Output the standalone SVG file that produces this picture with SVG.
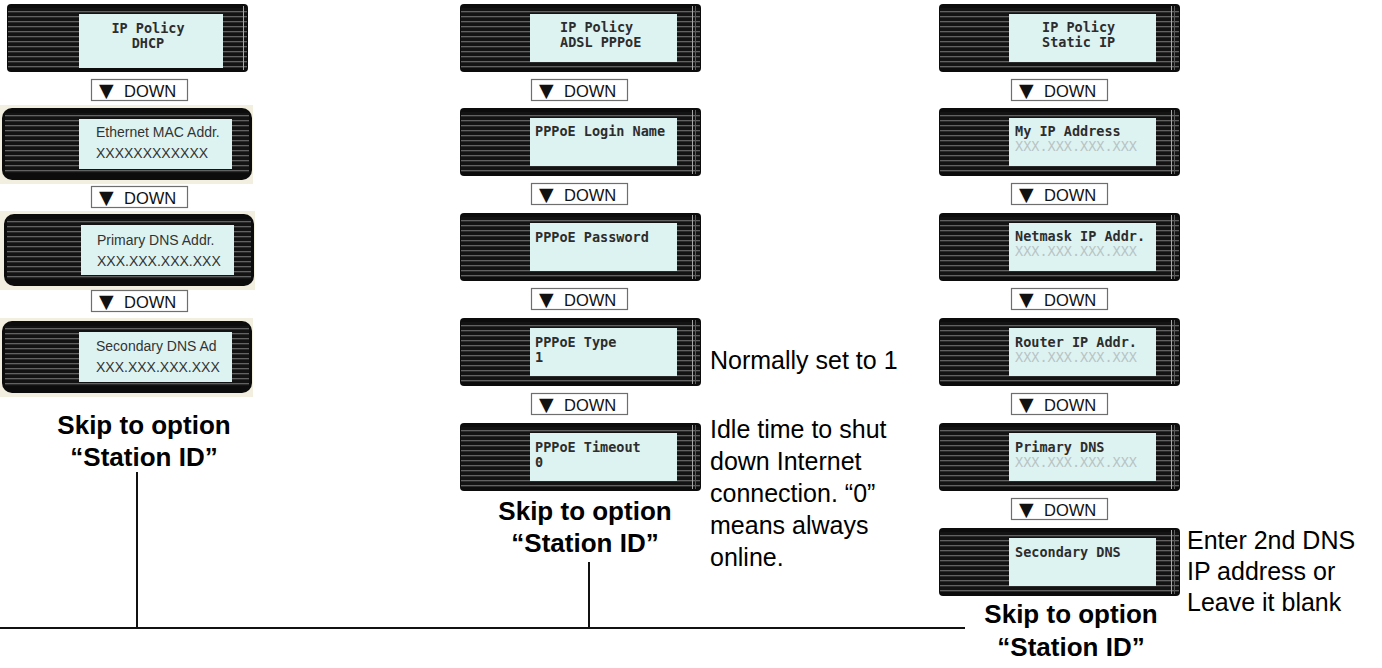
<svg xmlns="http://www.w3.org/2000/svg" xmlns:xlink="http://www.w3.org/1999/xlink" width="1382" height="668" viewBox="0 0 1382 668">
<defs>
  <pattern id="st" width="10" height="5" patternUnits="userSpaceOnUse">
    <rect width="10" height="5" fill="#131313"/>
    <rect y="2" width="10" height="1.3" fill="#626262"/>
  </pattern>
  <style>
    .body{fill:#0c0c0c}
    .str{fill:url(#st)}
    .lcd{fill:#ddf3f2}
    .vl1{stroke:#a8a8a8;stroke-width:1}
    .vl2{stroke:#5a5a5a;stroke-width:1}
    .cream{fill:#f2efe0}
    .mono{font-family:"DejaVu Sans Mono","Liberation Mono",monospace;font-size:13.5px;font-weight:bold;fill:#2d2d2d}
    .ip{font-family:"DejaVu Sans Mono","Liberation Mono",monospace;font-size:13.5px;fill:#b8c4c4}
    .ph{font-family:"Liberation Sans",Arial,sans-serif;font-size:14px;fill:#333}
    .btn rect{fill:#fff;stroke:#6e6e6e;stroke-width:1.2}
    .btn text{font-family:"Liberation Sans","DejaVu Sans",sans-serif;font-size:16.5px;fill:#111}
    .tri{font-family:"DejaVu Sans","Liberation Sans",sans-serif;font-size:19px}
    .skip{font-family:"Liberation Sans",Arial,sans-serif;font-size:26px;font-weight:bold;text-anchor:middle;fill:#000}
    .note{font-family:"Liberation Sans",Arial,sans-serif;font-size:25px;fill:#000}
    .conn{stroke:#111;stroke-width:2;fill:none}
  </style>
  <symbol id="panelA" width="241" height="68" viewBox="0 0 241 68" overflow="visible">
    <rect class="body" width="241" height="68" rx="4"/>
    <rect class="str" x="1" y="4" width="239" height="60"/>
    <rect class="lcd" x="70" y="10" width="147" height="48"/>
    <line class="vl1" x1="232.5" y1="2" x2="232.5" y2="66"/>
    <line class="vl2" x1="235.5" y1="2" x2="235.5" y2="66"/>
  </symbol>
  <symbol id="panelB" width="241" height="68" viewBox="0 0 241 68" overflow="visible">
    <rect class="body" width="241" height="68" rx="4"/>
    <rect class="str" x="1" y="4" width="239" height="60"/>
    <rect class="lcd" x="72" y="10" width="144" height="54"/>
    <line class="vl1" x1="236.5" y1="2" x2="236.5" y2="66"/>
  </symbol>
  <symbol id="panelC" width="250" height="72" viewBox="0 0 250 72" overflow="visible">
    <rect class="body" width="250" height="72" rx="10"/>
    <rect class="str" x="3" y="5" width="244" height="60"/>
    <rect class="lcd" x="77" y="11" width="153" height="50"/>
  </symbol>
  <symbol id="down" width="97" height="22" viewBox="0 0 97 22" overflow="visible">
    <g class="btn">
      <rect x="0.5" y="0.5" width="96" height="21"/>
      <text x="8" y="17.5"><tspan class="tri">▼</tspan> <tspan x="33">DOWN</tspan></text>
    </g>
  </symbol>
</defs>
<rect width="1382" height="668" fill="#fff"/>

<!-- Column 1: DHCP -->
<g id="dhcp-policy">
  <use href="#panelB" x="7" y="4" width="241" height="68"/>
  <text class="mono" x="148" y="33" text-anchor="middle">IP Policy</text>
  <text class="mono" x="148" y="48" text-anchor="middle">DHCP</text>
</g>
<g id="dhcp-down1"><use href="#down" x="91" y="79" width="97" height="22"/></g>
<g id="dhcp-mac">
  <rect class="cream" x="0" y="105" width="253" height="79"/>
  <use href="#panelC" x="2" y="108" width="250" height="72"/>
  <text class="ph" x="96" y="137">Ethernet MAC Addr.</text>
  <text class="ph" x="96" y="158">XXXXXXXXXXXX</text>
</g>
<g id="dhcp-down2"><use href="#down" x="91" y="186" width="97" height="22"/></g>
<g id="dhcp-dns1">
  <rect class="cream" x="0" y="211" width="255" height="79"/>
  <use href="#panelC" x="4" y="214" width="250" height="72"/>
  <text class="ph" x="97" y="245">Primary DNS Addr.</text>
  <text class="ph" x="97" y="266">XXX.XXX.XXX.XXX</text>
</g>
<g id="dhcp-down3"><use href="#down" x="91" y="290" width="97" height="22"/></g>
<g id="dhcp-dns2">
  <rect class="cream" x="0" y="318" width="253" height="79"/>
  <use href="#panelC" x="2" y="321" width="250" height="72"/>
  <text class="ph" x="96" y="351">Secondary DNS Ad</text>
  <text class="ph" x="96" y="372">XXX.XXX.XXX.XXX</text>
</g>
<g id="dhcp-skip">
  <text class="skip" x="144" y="434">Skip to option</text>
  <text class="skip" x="144" y="466">“Station ID”</text>
</g>

<!-- Column 2: ADSL PPPoE -->
<g id="pppoe-policy">
  <use href="#panelA" x="460" y="4" width="241" height="68"/>
  <text class="mono" x="560" y="32">IP Policy</text>
  <text class="mono" x="560" y="47">ADSL PPPoE</text>
</g>
<g id="pppoe-down1"><use href="#down" x="531" y="79" width="97" height="22"/></g>
<g id="pppoe-login">
  <use href="#panelA" x="460" y="108" width="241" height="68"/>
  <text class="mono" x="535" y="136">PPPoE Login Name</text>
</g>
<g id="pppoe-down2"><use href="#down" x="531" y="183" width="97" height="22"/></g>
<g id="pppoe-password">
  <use href="#panelA" x="460" y="213" width="241" height="68"/>
  <text class="mono" x="535" y="242">PPPoE Password</text>
</g>
<g id="pppoe-down3"><use href="#down" x="531" y="288" width="97" height="22"/></g>
<g id="pppoe-type">
  <use href="#panelA" x="460" y="318" width="241" height="68"/>
  <text class="mono" x="535" y="347">PPPoE Type</text>
  <text class="mono" x="535" y="362">1</text>
  <text class="note" x="710" y="369">Normally set to 1</text>
</g>
<g id="pppoe-down4"><use href="#down" x="531" y="393" width="97" height="22"/></g>
<g id="pppoe-timeout">
  <use href="#panelA" x="460" y="423" width="241" height="68"/>
  <text class="mono" x="535" y="452">PPPoE Timeout</text>
  <text class="mono" x="535" y="467">0</text>
  <text class="note" x="710" y="438">Idle time to shut</text>
  <text class="note" x="710" y="470">down Internet</text>
  <text class="note" x="710" y="502">connection. “0”</text>
  <text class="note" x="710" y="534">means always</text>
  <text class="note" x="710" y="566">online.</text>
</g>
<g id="pppoe-skip">
  <text class="skip" x="585" y="520">Skip to option</text>
  <text class="skip" x="585" y="552">“Station ID”</text>
</g>

<!-- Column 3: Static IP -->
<g id="static-policy">
  <use href="#panelA" x="939" y="4" width="241" height="68"/>
  <text class="mono" x="1042" y="32">IP Policy</text>
  <text class="mono" x="1042" y="47">Static IP</text>
</g>
<g id="static-down1"><use href="#down" x="1011" y="79" width="97" height="22"/></g>
<g id="static-myip">
  <use href="#panelA" x="939" y="108" width="241" height="68"/>
  <text class="mono" x="1015" y="136">My IP Address</text>
  <text class="ip" x="1015" y="151">XXX.XXX.XXX.XXX</text>
</g>
<g id="static-down2"><use href="#down" x="1011" y="183" width="97" height="22"/></g>
<g id="static-netmask">
  <use href="#panelA" x="939" y="213" width="241" height="68"/>
  <text class="mono" x="1015" y="241">Netmask IP Addr.</text>
  <text class="ip" x="1015" y="256">XXX.XXX.XXX.XXX</text>
</g>
<g id="static-down3"><use href="#down" x="1011" y="288" width="97" height="22"/></g>
<g id="static-router">
  <use href="#panelA" x="939" y="318" width="241" height="68"/>
  <text class="mono" x="1015" y="347">Router IP Addr.</text>
  <text class="ip" x="1015" y="362">XXX.XXX.XXX.XXX</text>
</g>
<g id="static-down4"><use href="#down" x="1011" y="393" width="97" height="22"/></g>
<g id="static-dns1">
  <use href="#panelA" x="939" y="423" width="241" height="68"/>
  <text class="mono" x="1015" y="452">Primary DNS</text>
  <text class="ip" x="1015" y="467">XXX.XXX.XXX.XXX</text>
</g>
<g id="static-down5"><use href="#down" x="1011" y="498" width="97" height="22"/></g>
<g id="static-dns2">
  <use href="#panelA" x="939" y="528" width="241" height="68"/>
  <text class="mono" x="1015" y="557">Secondary DNS</text>
  <text class="note" x="1187" y="549">Enter 2nd DNS</text>
  <text class="note" x="1187" y="580">IP address or</text>
  <text class="note" x="1187" y="611">Leave it blank</text>
</g>
<g id="static-skip">
  <text class="skip" x="1071" y="623">Skip to option</text>
  <text class="skip" x="1071" y="656">“Station ID”</text>
</g>

<!-- Connectors -->
<g id="connectors">
  <line class="conn" x1="137" y1="472" x2="137" y2="628"/>
  <line class="conn" x1="589" y1="562" x2="589" y2="628"/>
  <line class="conn" x1="0" y1="628" x2="965" y2="628"/>
</g>
</svg>
